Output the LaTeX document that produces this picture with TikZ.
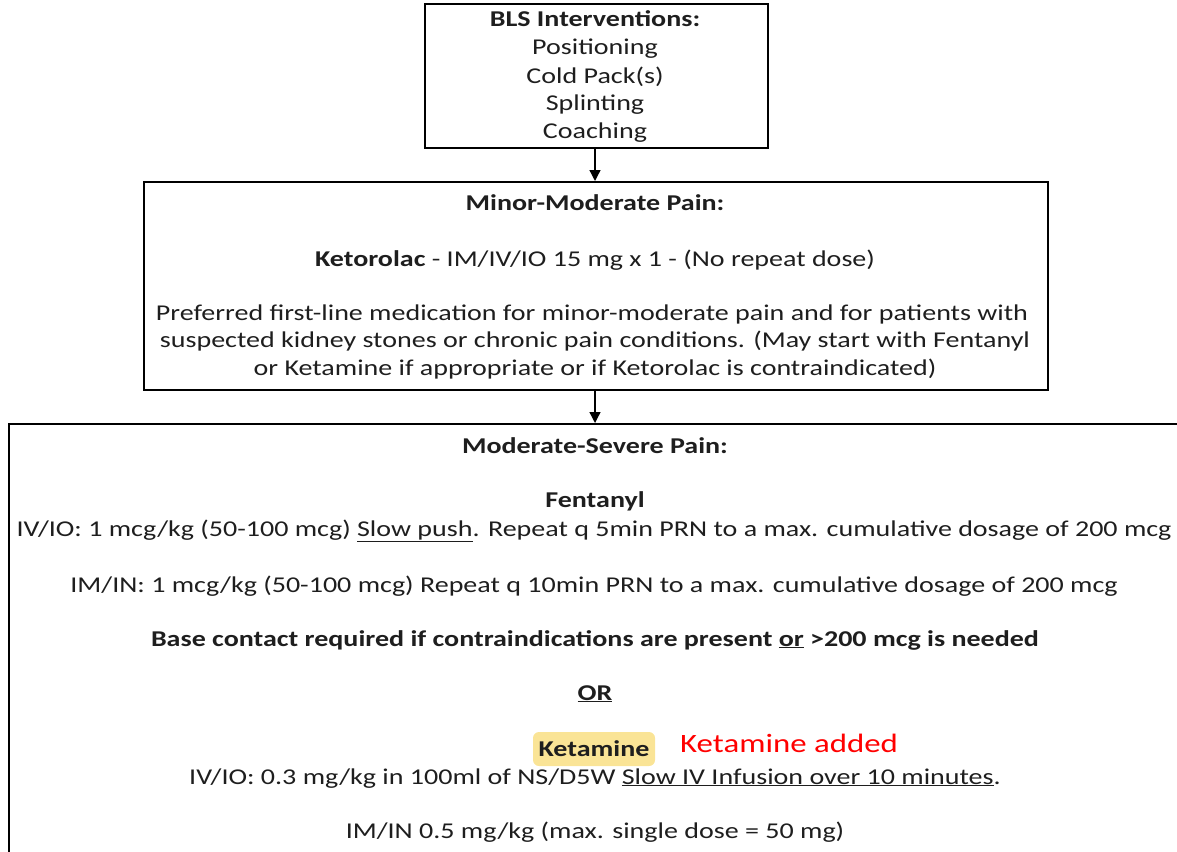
\documentclass[tikz,border=0pt]{standalone}
\usepackage{fontspec}
\setmainfont{Carlito}[FakeStretch=1.24]
\usetikzlibrary{arrows.meta}
\definecolor{txt}{RGB}{30,30,30}
\definecolor{hl}{RGB}{250,228,150}
\tikzset{
  box/.style={draw=black, line width=1.6pt, inner sep=0pt},
  tl/.style={text=txt, inner sep=0pt, anchor=base, font=\fontsize{22.6}{26}\selectfont},
  arr/.style={-{Triangle[length=11pt,width=11pt]}, line width=1.3pt}
}
\begin{document}
\begin{tikzpicture}[x=1pt,y=-1pt]
\useasboundingbox (0,0) rectangle (1177,851);
\clip (0,0) rectangle (1177,851);
% boxes
\node[box, minimum width=343pt, minimum height=144pt, anchor=north west] (b1) at (424,3) {};
\node[box, minimum width=904pt, minimum height=208pt, anchor=north west] (b2) at (143,181) {};
\node[box, minimum width=1200pt, minimum height=500pt, anchor=north west] (b3) at (8,423) {};
\draw[arr] (b1.south -| 595,0) -- (b2.north -| 595,0);
\draw[arr] (b2.south -| 595,0) -- (b3.north -| 595,0);
% box 1 text
\node[tl] (t1a) at (595,27) {\textbf{BLS Interventions:}};
\node[tl] (t1b) at (595,55) {Positioning};
\node[tl] (t1c) at (595,83) {Cold Pack(s)};
\node[tl] (t1d) at (595,110) {Splinting};
\node[tl] (t1e) at (595,138) {Coaching};
% box 2 text
\node[tl] (t2a) at (595,210) {\textbf{Minor-Moderate Pain:}};
\node[tl] (t2b) at (595,266) {\textbf{Ketorolac} - IM/IV/IO 15 mg x 1 - (No repeat dose)};
\node[tl] (t2c) at (592,320) {Preferred first-line medication for minor-moderate pain and for patients with};
\node[tl] (t2d) at (595,347) {suspected kidney stones or chronic pain conditions. (May start with Fentanyl};
\node[tl] (t2e) at (595,375) {or Ketamine if appropriate or if Ketorolac is contraindicated)};
% box 3 text
\node[tl] (t3a) at (595,453) {\textbf{Moderate-Severe Pain:}};
\node[tl] (t3b) at (595,507) {\textbf{Fentanyl}};
\node[tl] (t3c) at (594,536) {IV/IO: 1 mcg/kg (50-100 mcg) \underline{Slow push}. Repeat q 5min PRN to a max. cumulative dosage of 200 mcg};
\node[tl] (t3d) at (594,592) {IM/IN: 1 mcg/kg (50-100 mcg) Repeat q 10min PRN to a max. cumulative dosage of 200 mcg};
\node[tl] (t3e) at (595,646) {\textbf{Base contact required if contraindications are present \underline{or} >200 mcg is needed}};
\node[tl] (t3f) at (595,700) {\textbf{\underline{OR}}};
\fill[hl, rounded corners=6pt] (533,732) rectangle (655,766);
\node[tl] (t3g) at (594,756) {\textbf{Ketamine}};
\node[tl, text=red, anchor=base west, font=\fontsize{26.5}{30}\selectfont] (t3h) at (680,752) {Ketamine added};
\node[tl] (t3i) at (595,784) {IV/IO: 0.3 mg/kg in 100ml of NS/D5W \underline{Slow IV Infusion over 10 minutes}.};
\node[tl] (t3j) at (595,838) {IM/IN 0.5 mg/kg (max. single dose = 50 mg)};
\end{tikzpicture}
\end{document}
